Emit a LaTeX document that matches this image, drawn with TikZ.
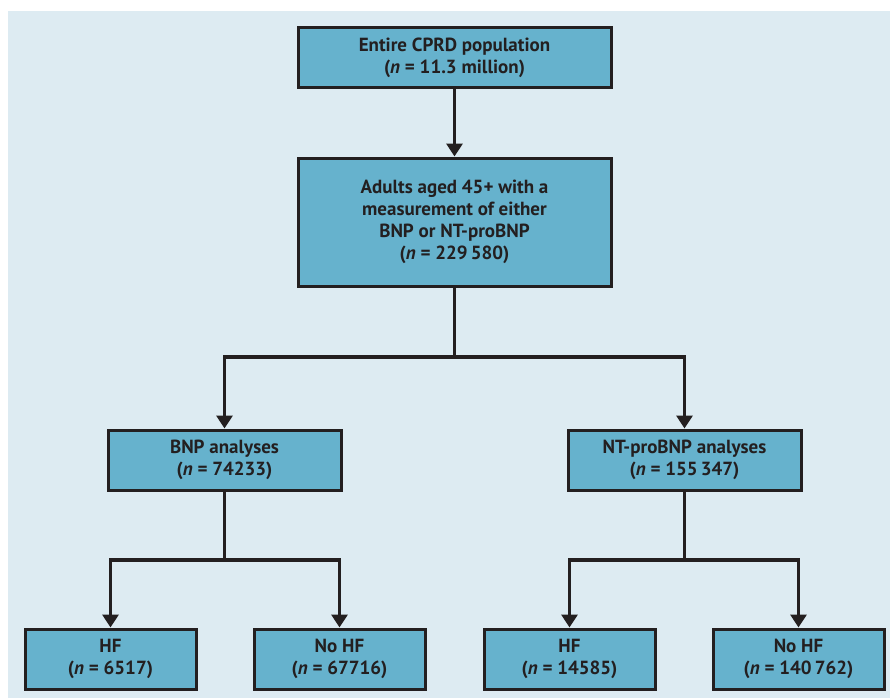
\documentclass[tikz,border=0pt]{standalone}
\usepackage{fontspec}
\setmainfont{PT Sans}
\usetikzlibrary{arrows.meta}
\definecolor{bgc}{HTML}{DDEBF2}
\definecolor{boxc}{HTML}{66B2CD}
\definecolor{ink}{HTML}{231F20}
\tikzset{
  box/.style={draw=ink, line width=3pt, fill=boxc, text=ink, align=center,
    font=\fontsize{19}{22}\selectfont\bfseries, inner sep=0pt},
  conn/.style={draw=ink, line width=3.2pt},
  arr/.style={conn, -{Triangle[width=16pt,length=13pt]}}
}
\begin{document}
\begin{tikzpicture}[x=1pt,y=-1pt]
\useasboundingbox (0,0) rectangle (890,698);
\fill[bgc] (8,11) rectangle (890,698);
\node[box, minimum width=313pt, minimum height=60pt] (top) at (454.5,58) {Entire CPRD population\\(\textit{n} = 11.3 million)};
\node[box, minimum width=313pt, minimum height=128pt] (adults) at (454.5,222) {Adults aged 45+ with a\\measurement of either\\BNP or NT-proBNP\\(\textit{n} = 229\,580)};
\node[box, minimum width=233pt, minimum height=60pt] (bnp) at (224.5,460) {BNP analyses\\(\textit{n} = 74233)};
\node[box, minimum width=233pt, minimum height=60pt] (nt) at (684.5,460) {NT-proBNP analyses\\(\textit{n} = 155\,347)};
\node[box, minimum width=171pt, minimum height=60pt] (hf1) at (110.5,659) {HF\\(\textit{n} = 6517)};
\node[box, minimum width=171pt, minimum height=60pt] (nohf1) at (339.5,659) {No HF\\(\textit{n} = 67716)};
\node[box, minimum width=171pt, minimum height=60pt] (hf2) at (569.5,659) {HF\\(\textit{n} = 14585)};
\node[box, minimum width=171pt, minimum height=60pt] (nohf2) at (798.5,659) {No HF\\(\textit{n} = 140\,762)};
\coordinate (j1) at (454.5,357);
\coordinate (j2) at (224.5,560);
\coordinate (j3) at (684.5,560);
\draw[arr] (top) -- (adults);
\draw[conn] (adults.south) -- (j1);
\draw[arr] (j1) -| (bnp.north);
\draw[arr] (j1) -| (nt.north);
\draw[conn] (bnp.south) -- (j2);
\draw[arr] (j2) -| (hf1.north);
\draw[arr] (j2) -| (nohf1.north);
\draw[conn] (nt.south) -- (j3);
\draw[arr] (j3) -| (hf2.north);
\draw[arr] (j3) -| (nohf2.north);
\end{tikzpicture}
\end{document}
